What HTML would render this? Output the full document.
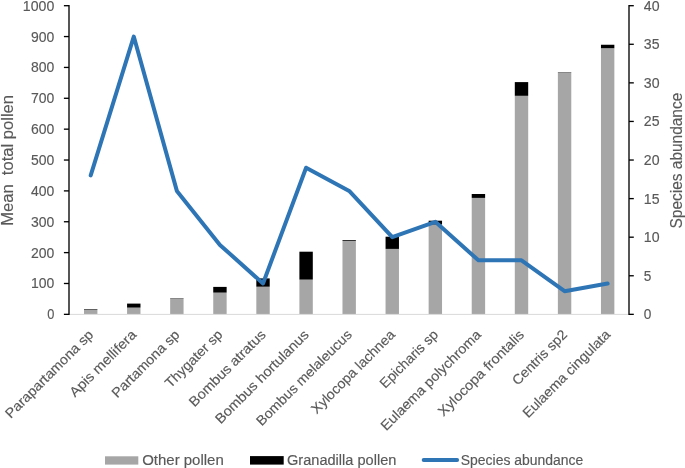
<!DOCTYPE html>
<html lang="en"><head><meta charset="utf-8"><title>Pollen chart</title>
<style>html,body{margin:0;padding:0;background:#fff;}body{width:685px;height:468px;overflow:hidden;}svg{display:block;}text{stroke:#595959;stroke-width:0.15px;}</style>
</head><body>
<svg width="685" height="468" viewBox="0 0 685 468" font-family="'Liberation Sans', sans-serif" fill="#595959">
<rect width="685" height="468" fill="#fff"/>
<rect x="84.00" y="309.55" width="13.4" height="4.65" fill="#a6a6a6"/>
<rect x="84.00" y="309.00" width="13.4" height="0.55" fill="#000"/>
<rect x="127.08" y="307.60" width="13.4" height="6.60" fill="#a6a6a6"/>
<rect x="127.08" y="303.60" width="13.4" height="4.00" fill="#000"/>
<rect x="170.16" y="298.30" width="13.4" height="15.90" fill="#a6a6a6"/>
<rect x="170.16" y="298.00" width="13.4" height="0.30" fill="#000"/>
<rect x="213.24" y="292.60" width="13.4" height="21.60" fill="#a6a6a6"/>
<rect x="213.24" y="286.90" width="13.4" height="5.70" fill="#000"/>
<rect x="256.32" y="286.70" width="13.4" height="27.50" fill="#a6a6a6"/>
<rect x="256.32" y="278.40" width="13.4" height="8.30" fill="#000"/>
<rect x="299.40" y="279.60" width="13.4" height="34.60" fill="#a6a6a6"/>
<rect x="299.40" y="251.70" width="13.4" height="27.90" fill="#000"/>
<rect x="342.48" y="240.85" width="13.4" height="73.35" fill="#a6a6a6"/>
<rect x="342.48" y="240.05" width="13.4" height="0.80" fill="#000"/>
<rect x="385.56" y="248.90" width="13.4" height="65.30" fill="#a6a6a6"/>
<rect x="385.56" y="236.70" width="13.4" height="12.20" fill="#000"/>
<rect x="428.64" y="224.50" width="13.4" height="89.70" fill="#a6a6a6"/>
<rect x="428.64" y="220.70" width="13.4" height="3.80" fill="#000"/>
<rect x="471.72" y="197.90" width="13.4" height="116.30" fill="#a6a6a6"/>
<rect x="471.72" y="194.00" width="13.4" height="3.90" fill="#000"/>
<rect x="514.80" y="95.80" width="13.4" height="218.40" fill="#a6a6a6"/>
<rect x="514.80" y="82.10" width="13.4" height="13.70" fill="#000"/>
<rect x="557.88" y="72.30" width="13.4" height="241.90" fill="#a6a6a6"/>
<rect x="557.88" y="72.00" width="13.4" height="0.30" fill="#000"/>
<rect x="600.96" y="48.20" width="13.4" height="266.00" fill="#a6a6a6"/>
<rect x="600.96" y="44.75" width="13.4" height="3.45" fill="#000"/>
<line x1="69.0" y1="314.4" x2="629.0" y2="314.4" stroke="#d9d9d9" stroke-width="1"/>
<line x1="69.0" y1="5.03" x2="69.0" y2="315.02" stroke="#000" stroke-width="1.33"/>
<line x1="63.90" y1="314.35" x2="69.0" y2="314.35" stroke="#000" stroke-width="1.33"/>
<text x="54.3" y="319.35" font-size="14.3" text-anchor="end" textLength="7.11" lengthAdjust="spacingAndGlyphs">0</text>
<line x1="63.90" y1="283.49" x2="69.0" y2="283.49" stroke="#000" stroke-width="1.33"/>
<text x="54.3" y="288.49" font-size="14.3" text-anchor="end" textLength="23.33" lengthAdjust="spacingAndGlyphs">100</text>
<line x1="63.90" y1="252.62" x2="69.0" y2="252.62" stroke="#000" stroke-width="1.33"/>
<text x="54.3" y="257.62" font-size="14.3" text-anchor="end" textLength="23.33" lengthAdjust="spacingAndGlyphs">200</text>
<line x1="63.90" y1="221.75" x2="69.0" y2="221.75" stroke="#000" stroke-width="1.33"/>
<text x="54.3" y="226.75" font-size="14.3" text-anchor="end" textLength="23.33" lengthAdjust="spacingAndGlyphs">300</text>
<line x1="63.90" y1="190.89" x2="69.0" y2="190.89" stroke="#000" stroke-width="1.33"/>
<text x="54.3" y="195.89" font-size="14.3" text-anchor="end" textLength="23.33" lengthAdjust="spacingAndGlyphs">400</text>
<line x1="63.90" y1="160.03" x2="69.0" y2="160.03" stroke="#000" stroke-width="1.33"/>
<text x="54.3" y="165.03" font-size="14.3" text-anchor="end" textLength="23.33" lengthAdjust="spacingAndGlyphs">500</text>
<line x1="63.90" y1="129.16" x2="69.0" y2="129.16" stroke="#000" stroke-width="1.33"/>
<text x="54.3" y="134.16" font-size="14.3" text-anchor="end" textLength="23.33" lengthAdjust="spacingAndGlyphs">600</text>
<line x1="63.90" y1="98.29" x2="69.0" y2="98.29" stroke="#000" stroke-width="1.33"/>
<text x="54.3" y="103.29" font-size="14.3" text-anchor="end" textLength="23.33" lengthAdjust="spacingAndGlyphs">700</text>
<line x1="63.90" y1="67.43" x2="69.0" y2="67.43" stroke="#000" stroke-width="1.33"/>
<text x="54.3" y="72.43" font-size="14.3" text-anchor="end" textLength="23.33" lengthAdjust="spacingAndGlyphs">800</text>
<line x1="63.90" y1="36.56" x2="69.0" y2="36.56" stroke="#000" stroke-width="1.33"/>
<text x="54.3" y="41.56" font-size="14.3" text-anchor="end" textLength="23.33" lengthAdjust="spacingAndGlyphs">900</text>
<line x1="63.90" y1="5.70" x2="69.0" y2="5.70" stroke="#000" stroke-width="1.33"/>
<text x="54.3" y="10.70" font-size="14.3" text-anchor="end" textLength="31.44" lengthAdjust="spacingAndGlyphs">1000</text>
<line x1="629.0" y1="5.03" x2="629.0" y2="315.02" stroke="#000" stroke-width="1.33"/>
<line x1="629.0" y1="314.35" x2="633.80" y2="314.35" stroke="#000" stroke-width="1.33"/>
<text x="643.8" y="319.35" font-size="14.3" textLength="7.61" lengthAdjust="spacingAndGlyphs">0</text>
<line x1="629.0" y1="275.77" x2="633.80" y2="275.77" stroke="#000" stroke-width="1.33"/>
<text x="643.8" y="280.77" font-size="14.3" textLength="7.61" lengthAdjust="spacingAndGlyphs">5</text>
<line x1="629.0" y1="237.19" x2="633.80" y2="237.19" stroke="#000" stroke-width="1.33"/>
<text x="643.8" y="242.19" font-size="14.3" textLength="15.72" lengthAdjust="spacingAndGlyphs">10</text>
<line x1="629.0" y1="198.61" x2="633.80" y2="198.61" stroke="#000" stroke-width="1.33"/>
<text x="643.8" y="203.61" font-size="14.3" textLength="15.72" lengthAdjust="spacingAndGlyphs">15</text>
<line x1="629.0" y1="160.03" x2="633.80" y2="160.03" stroke="#000" stroke-width="1.33"/>
<text x="643.8" y="165.03" font-size="14.3" textLength="15.72" lengthAdjust="spacingAndGlyphs">20</text>
<line x1="629.0" y1="121.44" x2="633.80" y2="121.44" stroke="#000" stroke-width="1.33"/>
<text x="643.8" y="126.44" font-size="14.3" textLength="15.72" lengthAdjust="spacingAndGlyphs">25</text>
<line x1="629.0" y1="82.86" x2="633.80" y2="82.86" stroke="#000" stroke-width="1.33"/>
<text x="643.8" y="87.86" font-size="14.3" textLength="15.72" lengthAdjust="spacingAndGlyphs">30</text>
<line x1="629.0" y1="44.28" x2="633.80" y2="44.28" stroke="#000" stroke-width="1.33"/>
<text x="643.8" y="49.28" font-size="14.3" textLength="15.72" lengthAdjust="spacingAndGlyphs">35</text>
<line x1="629.0" y1="5.70" x2="633.80" y2="5.70" stroke="#000" stroke-width="1.33"/>
<text x="643.8" y="10.70" font-size="14.3" textLength="15.72" lengthAdjust="spacingAndGlyphs">40</text>
<polyline points="90.70,175.46 133.78,36.56 176.86,190.89 219.94,244.90 263.02,283.49 306.10,167.74 349.18,190.89 392.26,237.19 435.34,221.76 478.42,260.34 521.50,260.34 564.58,291.20 607.66,283.49" fill="none" stroke="#2e75b6" stroke-width="4" stroke-linecap="round" stroke-linejoin="round"/>
<text transform="translate(94.20,335.50) rotate(-45)" font-size="13.8" text-anchor="end" textLength="118.07" lengthAdjust="spacingAndGlyphs">Parapartamona sp</text>
<text transform="translate(137.28,335.50) rotate(-45)" font-size="13.8" text-anchor="end" textLength="88.05" lengthAdjust="spacingAndGlyphs">Apis mellifera</text>
<text transform="translate(180.36,335.50) rotate(-45)" font-size="13.8" text-anchor="end" textLength="89.09" lengthAdjust="spacingAndGlyphs">Partamona sp</text>
<text transform="translate(223.44,335.50) rotate(-45)" font-size="13.8" text-anchor="end" textLength="74.97" lengthAdjust="spacingAndGlyphs">Thygater sp</text>
<text transform="translate(266.52,335.50) rotate(-45)" font-size="13.8" text-anchor="end" textLength="101.74" lengthAdjust="spacingAndGlyphs">Bombus atratus</text>
<text transform="translate(309.60,335.50) rotate(-45)" font-size="13.8" text-anchor="end" textLength="125.77" lengthAdjust="spacingAndGlyphs">Bombus hortulanus</text>
<text transform="translate(352.68,335.50) rotate(-45)" font-size="13.8" text-anchor="end" textLength="128.69" lengthAdjust="spacingAndGlyphs">Bombus melaleucus</text>
<text transform="translate(395.76,335.50) rotate(-45)" font-size="13.8" text-anchor="end" textLength="111.81" lengthAdjust="spacingAndGlyphs">Xylocopa lachnea</text>
<text transform="translate(438.84,335.50) rotate(-45)" font-size="13.8" text-anchor="end" textLength="75.65" lengthAdjust="spacingAndGlyphs">Epicharis sp</text>
<text transform="translate(481.92,335.50) rotate(-45)" font-size="13.8" text-anchor="end" textLength="135.43" lengthAdjust="spacingAndGlyphs">Eulaema polychroma</text>
<text transform="translate(525.00,335.50) rotate(-45)" font-size="13.8" text-anchor="end" textLength="115.17" lengthAdjust="spacingAndGlyphs">Xylocopa frontalis</text>
<text transform="translate(568.08,335.50) rotate(-45)" font-size="13.8" text-anchor="end" textLength="71.34" lengthAdjust="spacingAndGlyphs">Centris sp2</text>
<text transform="translate(611.16,335.50) rotate(-45)" font-size="13.8" text-anchor="end" textLength="117.38" lengthAdjust="spacingAndGlyphs">Eulaema cingulata</text>
<text transform="translate(13.0,160.4) rotate(-90)" font-size="16.0" text-anchor="middle" textLength="130.82" lengthAdjust="spacingAndGlyphs" xml:space="preserve" style="white-space:pre">Mean  total pollen</text>
<text transform="translate(681.8,160.6) rotate(-90)" font-size="16.0" text-anchor="middle" textLength="135.71" lengthAdjust="spacingAndGlyphs">Species abundance</text>
<rect x="105" y="456.3" width="33.3" height="8.3" fill="#a6a6a6"/>
<text x="142.2" y="465.0" font-size="13.8" textLength="81.57" lengthAdjust="spacingAndGlyphs">Other pollen</text>
<rect x="250" y="456.1" width="33.7" height="8.5" fill="#000"/>
<text x="287.0" y="465.0" font-size="13.8" textLength="109.36" lengthAdjust="spacingAndGlyphs">Granadilla pollen</text>
<line x1="423.7" y1="460.0" x2="457.1" y2="460.0" stroke="#2e75b6" stroke-width="4" stroke-linecap="round"/>
<text x="460.8" y="465.0" font-size="13.8" textLength="122.38" lengthAdjust="spacingAndGlyphs">Species abundance</text>
</svg>
</body></html>
